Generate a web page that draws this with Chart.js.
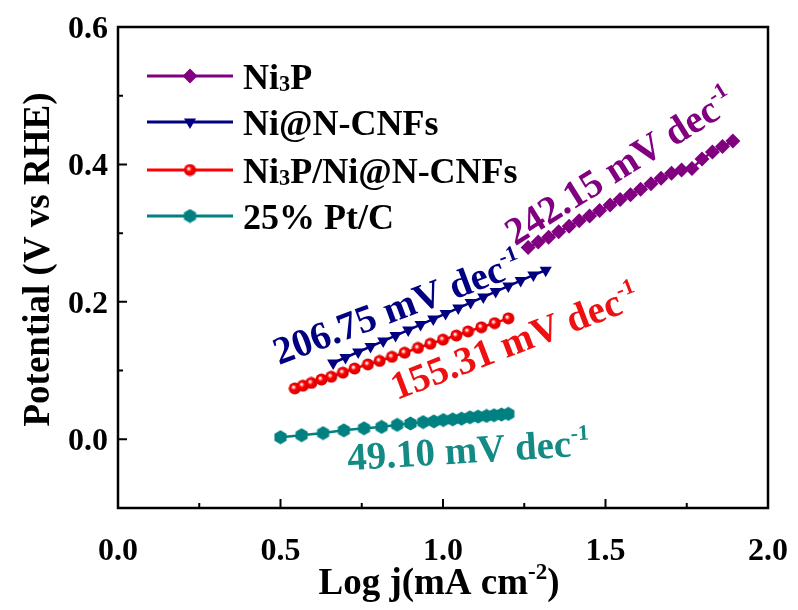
<!DOCTYPE html>
<html>
<head>
<meta charset="utf-8">
<script src="https://cdn.jsdelivr.net/npm/chart.js@4.4.0/dist/chart.umd.min.js"></script>
<style>
  html, body { margin: 0; padding: 0; background: #fff; }
</style>
</head>
<body>
<canvas id="myChart" width="798" height="610"></canvas>
<script>
// Tafel data: log j (mA cm-2) vs potential (V vs RHE)
const ni3pX = [1.262, 1.293, 1.325, 1.356, 1.388, 1.419, 1.451, 1.482, 1.514, 1.545, 1.577,
               1.608, 1.640, 1.671, 1.703, 1.734, 1.766, 1.797, 1.829, 1.860, 1.892];
const ni3pY = [0.279, 0.287, 0.294, 0.302, 0.310, 0.318, 0.325, 0.333, 0.341, 0.349, 0.356,
               0.364, 0.372, 0.380, 0.387, 0.392, 0.394, 0.408, 0.418, 0.426, 0.434];

const niCnfX = [0.662, 0.700, 0.739, 0.777, 0.816, 0.854, 0.893, 0.931, 0.970, 1.008, 1.047,
                1.085, 1.124, 1.162, 1.201, 1.239, 1.278, 1.316];
const niCnfY = [0.111, 0.119, 0.127, 0.135, 0.143, 0.151, 0.159, 0.167, 0.175, 0.183, 0.191,
                0.199, 0.207, 0.215, 0.223, 0.231, 0.239, 0.246];

const hybridX = [0.544, 0.569, 0.595, 0.626, 0.656, 0.692, 0.728, 0.769, 0.805, 0.843, 0.882,
                 0.923, 0.961, 1.000, 1.041, 1.077, 1.118, 1.159, 1.201];
const hybridY = [0.074, 0.078, 0.082, 0.087, 0.091, 0.097, 0.103, 0.109, 0.114, 0.120, 0.126,
                 0.133, 0.139, 0.145, 0.151, 0.157, 0.163, 0.169, 0.176];

const ptcX = [0.500, 0.565, 0.631, 0.695, 0.757, 0.811, 0.859, 0.900, 0.939, 0.972, 1.001,
              1.030, 1.057, 1.083, 1.108, 1.134, 1.157, 1.180, 1.201];
const ptcY = [0.003, 0.006, 0.009, 0.013, 0.016, 0.018, 0.021, 0.023, 0.025, 0.026, 0.028,
              0.029, 0.030, 0.032, 0.033, 0.034, 0.035, 0.036, 0.037];

const seriesNames = ['Ni3P', 'Ni@N-CNFs', 'Ni3P/Ni@N-CNFs', '25% Pt/C'];
const seriesColors = ['#800080', '#000080', '#ff0000', '#008080'];

// Tafel slopes, with where each label starts (x, y in data units) and its tilt
const slopeText = ['242.15', '206.75', '155.31', '49.10'];
const slopeColors = ['#800080', '#000080', '#ee1111', '#138a84'];
const slopeAt = [[1.222, 0.281], [0.495, 0.108], [0.858, 0.057], [0.708, -0.045]];
const slopeAngle = [-32, -20.5, -21, -3.5];

const xTicks = [0, 0.5, 1.0, 1.5, 2.0];
const xMinor = [0.25, 0.75, 1.25, 1.75];
const yTicks = [0, 0.2, 0.4, 0.6];
const yMinor = [-0.1, 0.1, 0.3, 0.5];

const FONT = '"Liberation Serif", "Times New Roman", serif';

function pts(xs, ys) {
  return xs.map((x, i) => ({ x: x, y: ys[i] }));
}

// little shaded ball for the hybrid curve
function makeBall(color) {
  const c = document.createElement('canvas');
  c.width = 13; c.height = 13;
  const g = c.getContext('2d');
  const grad = g.createRadialGradient(5, 5, 0.5, 6.5, 6.5, 6.5);
  grad.addColorStop(0, '#ffffff');
  grad.addColorStop(0.35, color);
  grad.addColorStop(1, '#cc0000');
  g.fillStyle = grad;
  g.beginPath(); g.arc(6.5, 6.5, 6, 0, Math.PI * 2); g.fill();
  return c;
}

function makeHex(color) {
  const c = document.createElement('canvas');
  c.width = 15; c.height = 15;
  const g = c.getContext('2d');
  g.fillStyle = color;
  g.beginPath();
  for (let i = 0; i < 6; i++) {
    const a = Math.PI / 6 + i * Math.PI / 3;
    const px = 7.5 + 7 * Math.cos(a), py = 7.5 + 7 * Math.sin(a);
    if (i === 0) g.moveTo(px, py); else g.lineTo(px, py);
  }
  g.closePath(); g.fill();
  return c;
}

const ballImg = makeBall(seriesColors[2]);
const hexImg = makeHex(seriesColors[3]);

// draws text pieces one after another (for sub/superscripts)
function drawRich(ctx, parts, x, y) {
  let cx = x;
  parts.forEach(p => {
    ctx.font = 'bold ' + p.size + 'px ' + FONT;
    ctx.fillText(p.t, cx, y + (p.dy || 0));
    cx += ctx.measureText(p.t).width;
  });
  return cx - x;
}
function richWidth(ctx, parts) {
  let w = 0;
  parts.forEach(p => {
    ctx.font = 'bold ' + p.size + 'px ' + FONT;
    w += ctx.measureText(p.t).width;
  });
  return w;
}

function nameParts(name, size) {
  // subscript 3 in Ni3P
  const out = [];
  name.split(/(3)/).forEach(s => {
    if (!s) return;
    if (s === '3') out.push({ t: '3', size: size * 0.62, dy: 2 });
    else out.push({ t: s, size: size });
  });
  return out;
}

const decoration = {
  id: 'decoration',
  afterDraw(chart) {
    const ctx = chart.ctx;
    const xs = chart.scales.x, ys = chart.scales.y;
    const a = chart.chartArea;
    ctx.save();

    // box
    ctx.strokeStyle = '#000';
    ctx.lineWidth = 2.5;
    ctx.strokeRect(a.left, a.top, a.right - a.left, a.bottom - a.top);

    // inward ticks
    ctx.lineWidth = 2;
    ctx.beginPath();
    xTicks.forEach(v => { const p = xs.getPixelForValue(v); ctx.moveTo(p, a.bottom); ctx.lineTo(p, a.bottom - 9); });
    xMinor.forEach(v => { const p = xs.getPixelForValue(v); ctx.moveTo(p, a.bottom); ctx.lineTo(p, a.bottom - 5); });
    yTicks.forEach(v => { const p = ys.getPixelForValue(v); ctx.moveTo(a.left, p); ctx.lineTo(a.left + 9, p); });
    yMinor.forEach(v => { const p = ys.getPixelForValue(v); ctx.moveTo(a.left, p); ctx.lineTo(a.left + 5, p); });
    ctx.stroke();

    // tick labels
    ctx.fillStyle = '#000';
    ctx.font = 'bold 32px ' + FONT;
    ctx.textBaseline = 'alphabetic';
    ctx.textAlign = 'center';
    xTicks.forEach(v => ctx.fillText(v.toFixed(1), xs.getPixelForValue(v), 560));
    ctx.textAlign = 'right';
    yTicks.forEach(v => ctx.fillText(v.toFixed(1), 108, ys.getPixelForValue(v) + 11));

    // legend
    const rows = [76, 122, 170, 216];
    chart.data.datasets.forEach((ds, i) => {
      const y = rows[i];
      ctx.strokeStyle = ds.borderColor;
      ctx.fillStyle = ds.backgroundColor;
      ctx.lineWidth = 3;
      ctx.beginPath(); ctx.moveTo(147, y); ctx.lineTo(233, y); ctx.stroke();
      Chart.helpers.drawPoint(ctx, {
        pointStyle: ds.pointStyle, rotation: ds.pointRotation || 0,
        radius: ds.pointRadius, borderWidth: 0
      }, 190, y);
      ctx.fillStyle = '#000';
      ctx.textAlign = 'left';
      drawRich(ctx, nameParts(seriesNames[i], 36), 243, y + 13);
    });

    // slope labels
    slopeText.forEach((s, i) => {
      const px = xs.getPixelForValue(slopeAt[i][0]);
      const py = ys.getPixelForValue(slopeAt[i][1]);
      ctx.save();
      ctx.translate(px, py);
      ctx.rotate(slopeAngle[i] * Math.PI / 180);
      ctx.fillStyle = slopeColors[i];
      ctx.textAlign = 'left';
      drawRich(ctx, [{ t: s + ' mV dec', size: 39 }, { t: '-1', size: 22, dy: -16 }], 0, 0);
      ctx.restore();
    });

    // axis titles
    ctx.fillStyle = '#000';
    ctx.textAlign = 'left';
    const xt = [{ t: 'Log j(mA cm', size: 37 }, { t: '-2', size: 23, dy: -15 }, { t: ')', size: 37 }];
    const w = richWidth(ctx, xt);
    drawRich(ctx, xt, (a.left + a.right) / 2 - w / 2 - 4, 594);

    ctx.save();
    ctx.translate(49, (a.top + a.bottom) / 2 - 8);
    ctx.rotate(-Math.PI / 2);
    ctx.font = 'bold 37px ' + FONT;
    ctx.textAlign = 'center';
    ctx.fillText('Potential (V vs RHE)', 0, 0);
    ctx.restore();

    ctx.restore();
  }
};

const ctx = document.getElementById('myChart');

const myChart = new Chart(ctx, {
  type: 'scatter',
  data: {
    datasets: [
      { label: seriesNames[0], data: pts(ni3pX, ni3pY), borderColor: seriesColors[0], backgroundColor: seriesColors[0],
        pointStyle: 'rectRot', pointRadius: 7.5 },
      { label: seriesNames[1], data: pts(niCnfX, niCnfY), borderColor: seriesColors[1], backgroundColor: seriesColors[1],
        pointStyle: 'triangle', pointRotation: 180, pointRadius: 7 },
      { label: seriesNames[2], data: pts(hybridX, hybridY), borderColor: seriesColors[2], backgroundColor: seriesColors[2],
        pointStyle: ballImg, pointRadius: 6 },
      { label: seriesNames[3], data: pts(ptcX, ptcY), borderColor: seriesColors[3], backgroundColor: seriesColors[3],
        pointStyle: hexImg, pointRadius: 7 }
    ].map(d => Object.assign({ showLine: true, borderWidth: 2.5, pointBorderWidth: 0 }, d))
  },
  options: {
    responsive: false,
    animation: false,
    layout: { padding: { left: 0, right: 30, top: 27, bottom: 0 } },
    plugins: { legend: { display: false }, tooltip: { enabled: false } },
    scales: {
      x: {
        type: 'linear', min: 0, max: 2,
        grid: { display: false },
        border: { display: false },
        afterBuildTicks: s => { s.ticks = xTicks.map(v => ({ value: v })); },
        afterFit: s => { s.height = 102; },
        ticks: { display: false }
      },
      y: {
        type: 'linear', min: -0.1, max: 0.6,
        grid: { display: false },
        border: { display: false },
        afterBuildTicks: s => { s.ticks = yTicks.map(v => ({ value: v })); },
        afterFit: s => { s.width = 118; },
        ticks: { display: false }
      }
    }
  },
  plugins: [decoration]
});
</script>
</body>
</html>
